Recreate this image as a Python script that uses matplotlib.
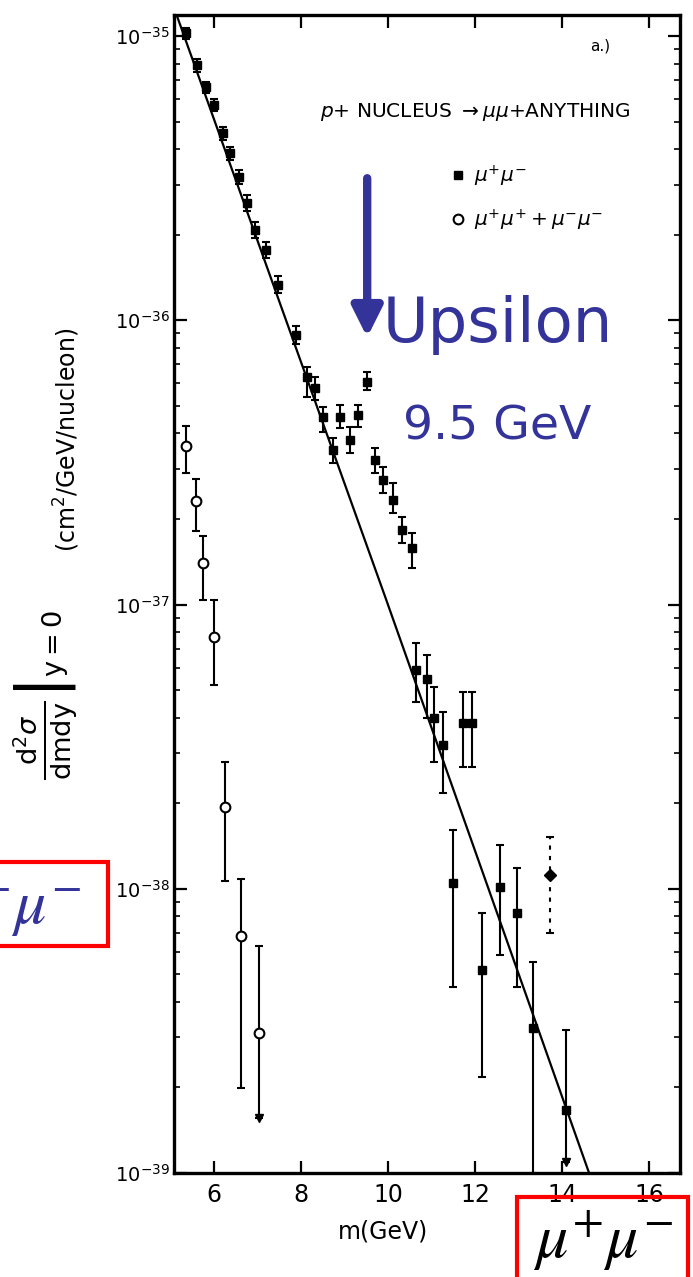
import numpy as np
import matplotlib.pyplot as plt
from matplotlib.patches import Rectangle

plt.rcParams['font.family'] = ['DejaVu Sans']
plt.rcParams['mathtext.fontset'] = 'dejavusans'

BLUE = '#333399'

# mu+ mu- (filled): mass in GeV, log10 of d2sigma/dmdy, log10 of error bar ends
mass_pm = [5.36, 5.61, 5.82, 6.00, 6.21, 6.37, 6.57, 6.76, 6.94, 7.20, 7.47, 7.89,
           8.14, 8.32, 8.51, 8.74, 8.90, 9.13, 9.31, 9.52, 9.70, 9.89, 10.11, 10.32,
           10.55, 10.64, 10.90, 11.06, 11.26, 11.49, 11.72, 11.93, 12.16, 12.57,
           12.97, 13.33, 14.09]
log_pm = [-34.989, -35.102, -35.179, -35.243, -35.341, -35.412, -35.496, -35.588,
          -35.682, -35.753, -35.876, -36.052, -36.200, -36.238, -36.340, -36.456,
          -36.340, -36.421, -36.333, -36.217, -36.492, -36.562, -36.632, -36.738,
          -36.801, -37.230, -37.262, -37.399, -37.494, -37.980, -37.417, -37.417,
          -38.286, -37.994, -38.085, -38.490, -38.778]
log_pm_lo = [-35.010, -35.125, -35.200, -35.265, -35.365, -35.435, -35.520, -35.615,
             -35.710, -35.780, -35.905, -36.085, -36.270, -36.280, -36.393, -36.502,
             -36.379, -36.467, -36.376, -36.245, -36.537, -36.608, -36.678, -36.784,
             -36.872, -37.343, -37.399, -37.554, -37.663, -38.346, -37.572, -37.572,
             -38.662, -38.233, -38.346, -39.000, -38.960]
log_pm_hi = [-34.970, -35.080, -35.160, -35.220, -35.320, -35.390, -35.470, -35.560,
             -35.655, -35.725, -35.845, -36.020, -36.165, -36.200, -36.305, -36.414,
             -36.298, -36.376, -36.298, -36.182, -36.449, -36.516, -36.573, -36.692,
             -36.748, -37.135, -37.178, -37.290, -37.378, -37.793, -37.308, -37.308,
             -38.085, -37.846, -37.927, -38.258, -38.497]

# the one point drawn with a dotted error bar
mass_dot = [13.72]
log_dot = [-37.952]
log_dot_lo = [-38.156]
log_dot_hi = [-37.818]

# mu+mu+ + mu-mu- (open)
mass_ss = [5.36, 5.59, 5.75, 6.00, 6.25, 6.62, 7.03]
log_ss = [-36.442, -36.636, -36.854, -37.114, -37.712, -38.166, -38.507]
log_ss_lo = [-36.537, -36.741, -36.984, -37.283, -37.973, -38.701, -38.807]
log_ss_hi = [-36.372, -36.558, -36.759, -36.984, -37.554, -37.966, -38.201]

# points whose lower end is an arrow
arrow_mass = [14.09, 7.03]
arrow_log = [-38.960, -38.807]

# fitted continuum
fit_mass = [5.15, 9.95, 14.62]
fit_log = [-34.93, -36.98, -39.00]

y_ticks = [-39, -38, -37, -36, -35]
x_ticks = [6, 8, 10, 12, 14, 16]
upsilon_mass = 9.52


def errs(val, lo, hi):
    v = 10 ** np.array(val)
    return v, np.vstack([v - 10 ** np.array(lo), 10 ** np.array(hi) - v])


fig = plt.figure(figsize=(6.93, 12.77), dpi=100)
ax = fig.add_axes([0.2511, 0.0814, 0.7302, 0.9068])
ax.set_yscale('log')
ax.set_xlim(5.08, 16.71)
ax.set_ylim(1e-39, 10 ** -34.926)

ax.plot(fit_mass, 10 ** np.array(fit_log), color='black', lw=1.6, zorder=2)

y, e = errs(log_pm, log_pm_lo, log_pm_hi)
ax.errorbar(mass_pm, y, yerr=e, fmt='none', ecolor='black', elinewidth=1.5,
            capsize=3.2, capthick=1.5, zorder=3)
pm_line, = ax.plot(mass_pm, y, ls='none', marker='s', ms=6, color='black', zorder=4)

y, e = errs(log_dot, log_dot_lo, log_dot_hi)
eb = ax.errorbar(mass_dot, y, yerr=e, fmt='none', ecolor='black', elinewidth=1.5,
                 capsize=3.2, capthick=1.5, zorder=3)
eb[2][0].set_linestyle((0, (2, 3)))
ax.plot(mass_dot, y, ls='none', marker='D', ms=6, color='black', zorder=4)

y, e = errs(log_ss, log_ss_lo, log_ss_hi)
ax.errorbar(mass_ss, y, yerr=e, fmt='none', ecolor='black', elinewidth=1.5,
            capsize=3.2, capthick=1.5, zorder=3)
ss_line, = ax.plot(mass_ss, y, ls='none', marker='o', ms=7, mfc='white', mec='black',
                   mew=1.5, color='black', zorder=4)

ax.plot(arrow_mass, 10 ** np.array(arrow_log), ls='none', marker='v', ms=6,
        color='black', zorder=4)

for s in ax.spines.values():
    s.set_linewidth(2.4)
ax.set_xticks(x_ticks)
ax.set_xticklabels([str(t) for t in x_ticks], fontsize=17)
ax.set_yticks([10.0 ** t for t in y_ticks])
ax.set_yticklabels([r'$10^{%d}$' % t for t in y_ticks], fontsize=14)
ax.tick_params(which='both', direction='in', top=True, right=True)
ax.tick_params(which='major', length=9, width=1.6)
ax.tick_params(which='minor', length=4, width=1.2)
ax.tick_params(axis='x', which='minor', bottom=False, top=False)
ax.tick_params(axis='y', pad=3)
ax.tick_params(axis='x', pad=7)

# Upsilon arrow
ax.annotate('', xy=(upsilon_mass, 10 ** -36.06), xytext=(upsilon_mass, 10 ** -35.50),
            arrowprops=dict(arrowstyle='-|>,head_width=0.45,head_length=0.9',
                            mutation_scale=20, lw=6, color=BLUE, shrinkA=0, shrinkB=0))

leg = ax.legend([pm_line, ss_line], [r'$\mu^{+}\mu^{-}$', r'$\mu^{+}\mu^{+} + \mu^{-}\mu^{-}$'],
                loc='upper left', bbox_to_anchor=(0.545, 0.872), frameon=False,
                fontsize=14.5, handlelength=0.8, handletextpad=0.4, borderpad=0,
                borderaxespad=0, labelspacing=0.95)

fig.text(320 / 693, 1 - 112 / 1277, r'$p$+ NUCLEUS $\rightarrow\mu\mu$+ANYTHING',
         fontsize=14.5, va='center', ha='left')
fig.text(590 / 693, 1 - 46 / 1277, 'a.)', fontsize=11, va='center')

fig.text(383 / 693, 1 - 342 / 1277, 'Upsilon', fontsize=45, color=BLUE, va='baseline')
fig.text(403 / 693, 1 - 440 / 1277, '9.5 GeV', fontsize=34, color=BLUE, va='baseline')

fig.text(383 / 693, 1 - 1232 / 1277, 'm(GeV)', fontsize=17, ha='center', va='center')
fig.text(46 / 693, 1 - 695 / 1277,
         r'$\left.\frac{\mathrm{d}^2\sigma}{\mathrm{dmdy}}\right|_{\mathrm{y=0}}$',
         fontsize=28, rotation=90, ha='center', va='center')
fig.text(67 / 693, 1 - 440 / 1277, r'(cm$^2$/GeV/nucleon)', fontsize=17,
         rotation=90, ha='center', va='center')

# red boxes
fig.add_artist(Rectangle((-0.02, 1 - 946 / 1277), 108 / 693 + 0.02, 84 / 1277,
                         transform=fig.transFigure, fill=False, ec='#ff0000', lw=3))
fig.text(81 / 693, 1 - 924 / 1277, r'$\mu^{-}\mu^{-}$', fontsize=46, color=BLUE,
         ha='right', va='baseline', math_fontfamily='stix')
fig.add_artist(Rectangle((517 / 693, -0.02), 171 / 693, 80 / 1277 + 0.02,
                         transform=fig.transFigure, fill=False, ec='#ff0000', lw=3))
fig.text(603 / 693, 1 - 1258 / 1277, r'$\mu^{+}\mu^{-}$', fontsize=46, color='black',
         ha='center', va='baseline', math_fontfamily='stix')

fig.savefig('out.png', dpi=100)
